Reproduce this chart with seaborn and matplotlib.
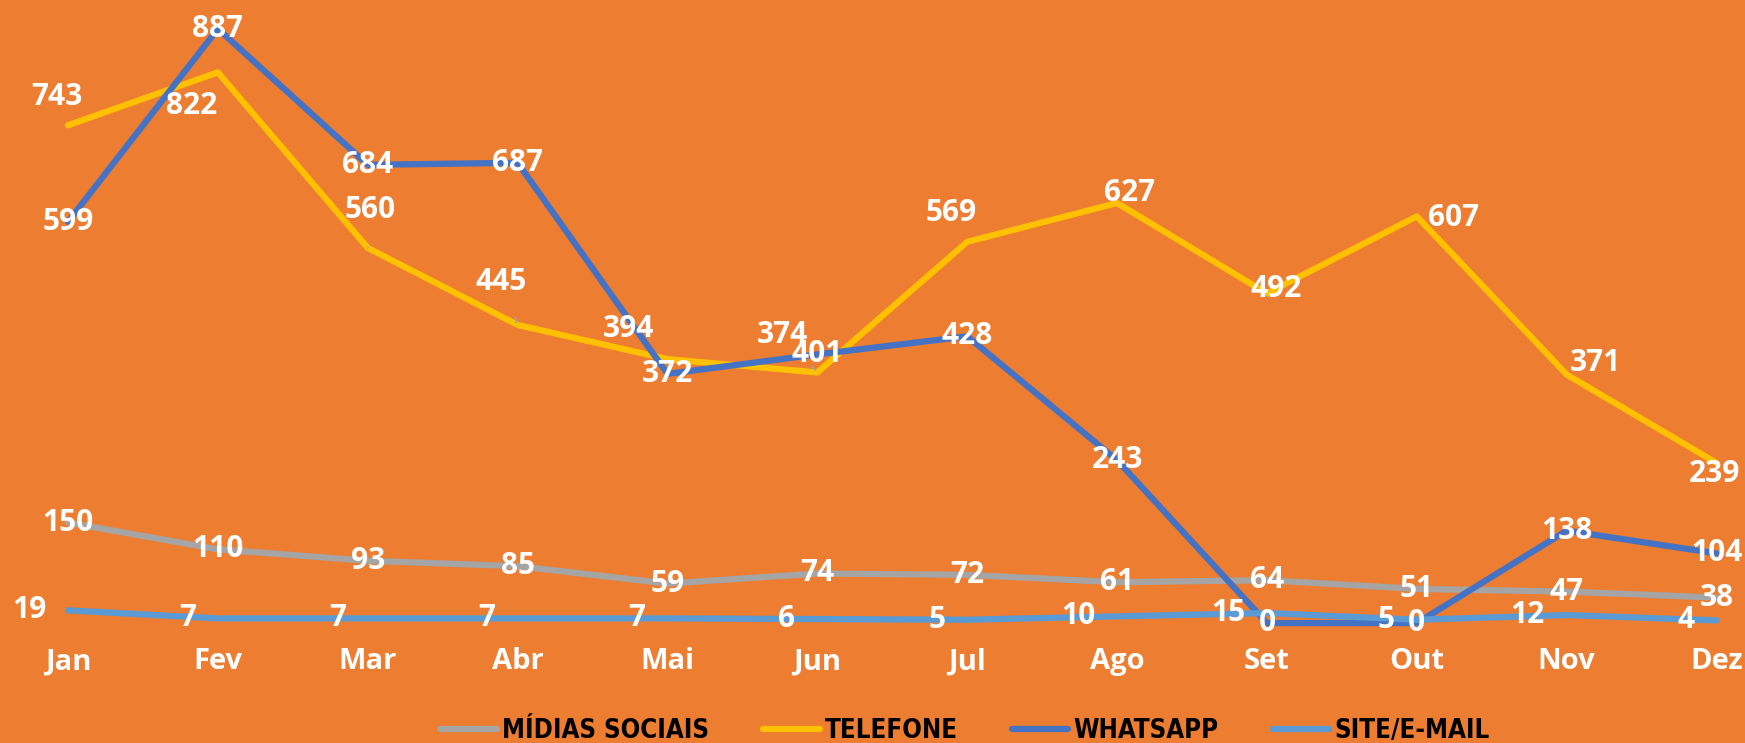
import numpy as np
import pandas as pd
import matplotlib.pyplot as plt
import seaborn as sns
from matplotlib import font_manager

# dados mensais
meses = ['Jan', 'Fev', 'Mar', 'Abr', 'Mai', 'Jun', 'Jul', 'Ago', 'Set', 'Out', 'Nov', 'Dez']
midias = [150, 110, 93, 85, 59, 74, 72, 61, 64, 51, 47, 38]
telefone = [743, 822, 560, 445, 394, 374, 569, 627, 492, 607, 371, 239]
whatsapp = [599, 887, 684, 687, 372, 401, 428, 243, 0, 0, 138, 104]
site = [19, 7, 7, 7, 7, 6, 5, 10, 15, 5, 12, 4]

series = ['MÍDIAS SOCIAIS', 'TELEFONE', 'WHATSAPP', 'SITE/E-MAIL']
cores = ['#A5A5A5', '#FFC000', '#4472C4', '#5B9BD5']
fundo = '#ED7D31'

df = pd.DataFrame({'pos': range(12), 'MÍDIAS SOCIAIS': midias, 'TELEFONE': telefone,
                   'WHATSAPP': whatsapp, 'SITE/E-MAIL': site})
longo = df.melt(id_vars='pos', var_name='serie', value_name='valor')

plt.rcParams['font.family'] = ['Open Sans', 'DejaVu Sans']

fig = plt.figure(figsize=(17.45, 7.43), dpi=100)
fig.patch.set_facecolor(fundo)
ax = fig.add_axes([0, 0, 1, 1])
ax.set_facecolor(fundo)

sns.lineplot(data=longo, x='pos', y='valor', hue='serie', hue_order=series,
             palette=cores, linewidth=4.5, ax=ax, solid_capstyle='round')

ax.set_xlim(-0.454, 11.19)
ax.set_ylim(-179, 930)
ax.axis('off')

# rotulos dos meses
for i, m in enumerate(meses):
    ax.text(i, -58, m, color='white', fontsize=21, fontweight='bold',
            ha='center', va='center')

rot = dict(color='white', fontsize=21.5, fontweight='bold', va='center')

# midias e whatsapp: rotulo centrado no ponto
for vals in (midias, whatsapp):
    for i, v in enumerate(vals):
        ax.annotate(str(v), (i, v), ha='center', **rot)

# site: rotulo a esquerda
for i, v in enumerate(site):
    ax.annotate(str(v), (i, v), xytext=(-22, 0), textcoords='offset pixels',
                ha='right', **rot)

# telefone: posicoes ajustadas (pixels na imagem)
desloc_tel = [(-11, -28), (-26, 34), (2, -38), (-17, -43), (-39, -30), (-35, -38),
              (-16, -29), (12, -10), (9, -4), (37, 2), (29, -12), (-2, 11)]
guia = {2, 3, 5}
for i, v in enumerate(telefone):
    dx, dy = desloc_tel[i]
    seta = dict(arrowstyle='-', color='#A5A5A5', lw=1.2, shrinkA=14, shrinkB=2) if i in guia else None
    ax.annotate(str(v), (i, v), xytext=(dx, -dy), textcoords='offset pixels',
                ha='center', arrowprops=seta, **rot)

leg_font = font_manager.FontProperties(family='DejaVu Sans', stretch='condensed',
                                       weight='bold', size=18.5)
sns.move_legend(ax, 'center', bbox_to_anchor=(965 / 1745, 1 - 731 / 743), ncol=4,
                frameon=False, title=None, handlelength=2.2, columnspacing=2.1,
                handletextpad=0.2, prop=leg_font)

fig.savefig('out.png', dpi=100, facecolor=fundo)
